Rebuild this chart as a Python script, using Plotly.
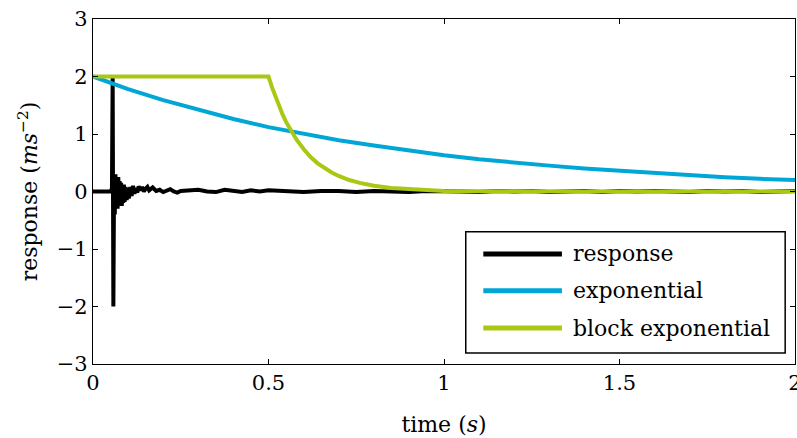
import plotly.graph_objects as go

# ---- data ----
t_response = [0.000, 0.050, 0.054, 0.056, 0.058, 0.060, 0.062, 0.064, 0.066, 0.068,
              0.070, 0.072, 0.074, 0.076, 0.078, 0.080, 0.082, 0.084, 0.086, 0.088,
              0.090, 0.093, 0.096, 0.099, 0.102, 0.106, 0.110, 0.114, 0.118, 0.122,
              0.126, 0.130, 0.135, 0.140, 0.145, 0.150, 0.155, 0.160, 0.165, 0.170,
              0.180, 0.190, 0.200, 0.210, 0.220, 0.230, 0.240, 0.250,
              0.275, 0.300, 0.325, 0.350, 0.375, 0.400, 0.425, 0.450, 0.475, 0.500,
              0.55, 0.60, 0.65, 0.70, 0.75, 0.80, 0.85, 0.90, 0.95, 1.00,
              1.05, 1.10, 1.15, 1.20, 1.25, 1.30, 1.35, 1.40, 1.45, 1.50,
              1.55, 1.60, 1.65, 1.70, 1.75, 1.80, 1.85, 1.90, 1.95, 2.00]
y_response = [0, 0, 0.05, 2.00, -2.00, 0.15, -0.40, 0.30, -0.30, 0.25,
              -0.30, 0.25, -0.20, 0.18, -0.25, 0.15, -0.25, 0.10, -0.20, 0.12,
              -0.18, 0.08, -0.15, 0.06, -0.12, 0.08, -0.08, 0.10, -0.04, 0.06,
              -0.02, 0.09, 0.02, 0.08, 0.00, 0.05, 0.08, 0.02, 0.05, 0.07,
              0.01, 0.03, -0.01, 0.02, 0.04, 0.00, -0.02, 0.01,
              0.02, 0.03, 0.00, -0.01, 0.03, 0.01, -0.01, 0.02, 0.00, 0.02,
              0.00, -0.01, 0.01, 0.01, -0.01, 0.01, 0.00, -0.01, 0.01, 0.01,
              0.00, -0.01, 0.01, 0.00, 0.01, -0.01, 0.00, 0.01, -0.01, 0.01,
              0.00, 0.01, 0.00, -0.01, 0.01, 0.00, 0.01, -0.01, 0.00, 0.01]

t_exp = [0.0, 0.1, 0.2, 0.3, 0.4, 0.5, 0.6, 0.7, 0.8, 0.9, 1.0,
         1.1, 1.2, 1.3, 1.4, 1.5, 1.6, 1.7, 1.8, 1.9, 2.0]
y_exp = [2.00, 1.78, 1.59, 1.42, 1.26, 1.12, 1.00, 0.89, 0.80, 0.71, 0.63,
         0.56, 0.50, 0.45, 0.40, 0.36, 0.32, 0.28, 0.25, 0.22, 0.20]

t_block = [0.0, 0.50, 0.51, 0.52, 0.53, 0.54, 0.55, 0.56, 0.58, 0.60, 0.62, 0.64,
           0.66, 0.68, 0.70, 0.73, 0.76, 0.80, 0.85, 0.90, 0.95, 1.00, 1.10,
           1.20, 1.40, 2.00]
y_block = [2.00, 2.00, 1.81, 1.64, 1.48, 1.34, 1.21, 1.10, 0.90, 0.74, 0.60, 0.49,
           0.40, 0.33, 0.27, 0.20, 0.15, 0.10, 0.06, 0.04, 0.02, 0.01, 0.005,
           0.0, 0.0, 0.0]

series_names = ["response", "exponential", "block exponential"]
series_colors = ["#000000", "#00A6D6", "#A8C814"]

x_ticks = [0, 0.5, 1, 1.5, 2]
x_ticktext = ["0", "0.5", "1", "1.5", "2"]
y_ticks = [-3, -2, -1, 0, 1, 2, 3]
y_ticktext = ["−3", "−2", "−1", "0", "1", "2", "3"]

FONT = "DejaVu Serif"
FS_TICK = 21
FS_TEXT = 22

fig = go.Figure()
for (tx, ty), name, col in zip([(t_response, y_response), (t_exp, y_exp), (t_block, y_block)],
                               series_names, series_colors):
    fig.add_trace(go.Scatter(x=tx, y=ty, mode="lines", name=name, showlegend=False,
                             line=dict(color=col, width=4)))

# custom legend (box, line samples, labels) in paper coordinates
shapes = [dict(type="rect", xref="paper", yref="paper", x0=0.531, x1=0.986, y0=0.032, y1=0.383,
               line=dict(color="black", width=1.5), fillcolor="white", layer="above")]
annotations = []
leg_y = [0.319, 0.212, 0.104]
for name, col, ly in zip(series_names, series_colors, leg_y):
    shapes.append(dict(type="line", xref="paper", yref="paper", x0=0.556, x1=0.668, y0=ly, y1=ly,
                       line=dict(color=col, width=5), layer="above"))
    annotations.append(dict(xref="paper", yref="paper", x=0.681, y=ly, text=name, showarrow=False,
                            xanchor="left", yanchor="middle", font=dict(family=FONT, size=FS_TEXT, color="black")))

axis_common = dict(showline=True, linecolor="black", linewidth=1.3, mirror="ticks",
                   ticks="inside", ticklen=5, tickwidth=1, tickcolor="black",
                   showgrid=False, zeroline=False, automargin=False,
                   tickfont=dict(family=FONT, size=FS_TICK, color="black"))

fig.update_layout(
    width=797, height=438,
    margin=dict(l=93, r=2, t=19, b=74),
    paper_bgcolor="white", plot_bgcolor="white",
    xaxis=dict(range=[0, 2], tickvals=x_ticks, ticktext=x_ticktext, ticklabeloverflow="allow",
               title=dict(text="time (<i>s</i>)", font=dict(family=FONT, size=FS_TEXT, color="black"), standoff=22),
               **axis_common),
    yaxis=dict(range=[-3, 3], tickvals=y_ticks, ticktext=y_ticktext,
               title=dict(text="response (<i>ms</i><sup>−2</sup>)", font=dict(family=FONT, size=FS_TEXT, color="black"), standoff=12),
               **axis_common),
    shapes=shapes,
    annotations=annotations,
)

fig.write_html("out.html")
